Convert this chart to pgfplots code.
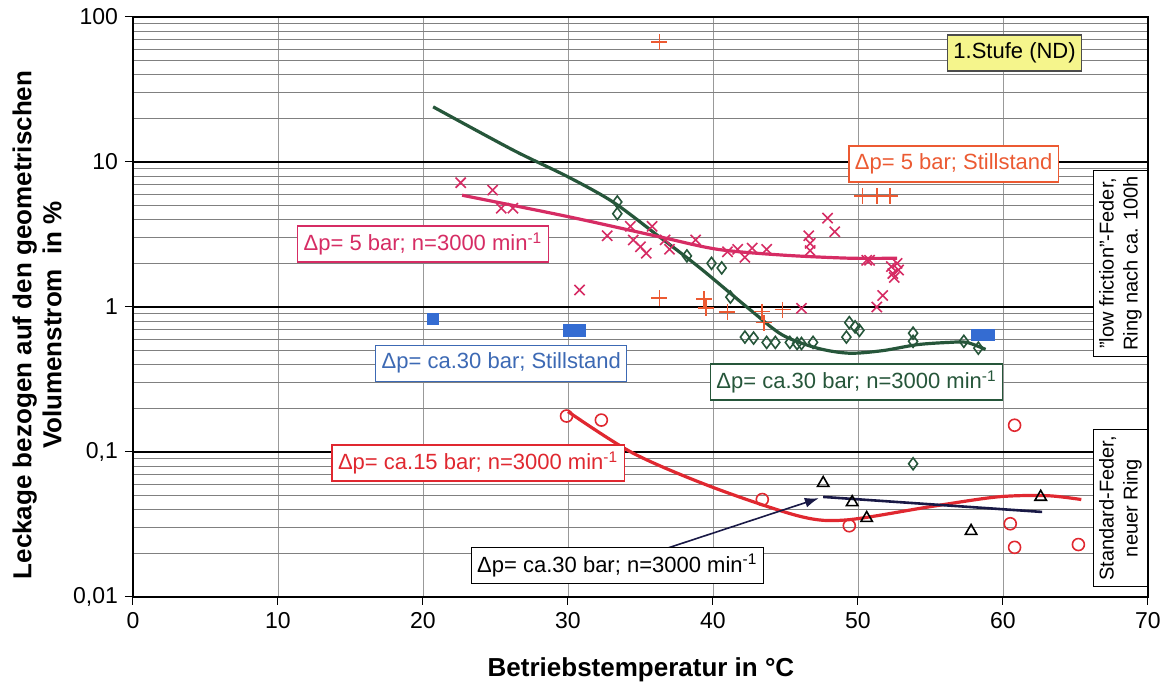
\documentclass[border=0pt]{standalone}
\usepackage{fontspec}
\setmainfont{Liberation Sans}
\usepackage{pgfplots}
\pgfplotsset{compat=1.18}
\usetikzlibrary{arrows.meta}
\definecolor{cpink}{RGB}{214,44,100}
\definecolor{corange}{RGB}{236,90,50}
\definecolor{cgreen}{RGB}{38,86,58}
\definecolor{cblue}{RGB}{52,108,210}
\definecolor{cbluet}{RGB}{60,105,180}
\definecolor{cred}{RGB}{224,40,48}
\definecolor{cnavy}{RGB}{25,25,70}
\definecolor{cyel}{RGB}{245,245,140}
\begin{document}
\begin{tikzpicture}
\begin{axis}[
 at={(0,0)}, anchor=south west, scale only axis,
 width=507.5pt, height=290pt,
 xmin=0, xmax=70, ymode=log, ymin=0.01, ymax=100,
 xtick={0,10,...,70},
 ytick={0.01,0.1,1,10,100},
 yticklabels={{0,01},{0,1},1,10,100},
 minor ytick={0.02,0.03,0.04,0.05,0.06,0.07,0.08,0.09,0.2,0.3,0.4,0.5,0.6,0.7,0.8,0.9,2,3,4,5,6,7,8,9,20,30,40,50,60,70,80,90},
 ymajorgrids, yminorgrids, xmajorgrids,
 major y grid style={black, line width=0.7pt},
 minor y grid style={black!50, line width=0.45pt},
 major x grid style={black!40, line width=0.35pt},
 tick align=outside, major tick length=4pt, minor tick length=0pt,
 tick pos=left,
 tick style={black, line width=0.5pt},
 axis line style={black, line width=0.6pt},
 ticklabel style={font=\fontsize{11.5}{13}\selectfont},
 /pgf/number format/assume math mode=true,
 clip mode=individual,
]
% fitted curves
\addplot[cgreen, line width=1.6pt, smooth] coordinates {(20.7,24) (26.2,12.1) (30,7.9) (33.1,5.3) (36.3,3.05) (39.1,1.86) (42.6,0.95) (44.8,0.64) (47.2,0.52) (49.4,0.48) (51.7,0.50) (54.1,0.55) (56.3,0.57) (57.5,0.57) (58.8,0.51)};
\addplot[cpink, line width=1.6pt, smooth] coordinates {(22.7,5.9) (30,4.2) (36.3,3.05) (40.3,2.5) (44.8,2.28) (49.4,2.17) (52.7,2.17)};
\addplot[cred, line width=1.6pt, smooth] coordinates {(30.0,0.19) (34.5,0.098) (40,0.057) (46,0.036) (49.2,0.034) (55,0.042) (59.6,0.049) (63,0.050) (65.4,0.047)};
\addplot[cnavy, line width=1.3pt] coordinates {(47.6,0.049) (62.7,0.0386)};
% data points
\addplot[only marks, mark=x, mark size=3.6pt, cpink, line width=0.8pt] coordinates {(22.6,7.2) (24.8,6.4) (25.4,4.8) (26.2,4.8) (30.8,1.31) (32.7,3.1) (34.3,3.6) (34.5,2.9) (35,2.6) (35.4,2.35) (35.8,3.6) (36.7,2.9) (37,2.5) (38.8,2.9) (41,2.4) (41.7,2.5) (42.2,2.2) (42.7,2.55) (43.7,2.5) (46.1,0.98) (46.6,3.1) (46.7,2.75) (46.7,2.45) (47.9,4.1) (48.4,3.3) (50.6,2.1) (50.8,2.1) (51.3,1.0) (51.7,1.2) (52.3,1.9) (52.4,1.7) (52.5,1.6) (52.8,1.8) (52.7,2.0)};
\addplot[only marks, mark=+, mark size=4pt, corange, line width=0.8pt] coordinates {(36.3,67) (50.3,5.8) (51.3,5.8) (52.2,5.8) (36.3,1.15) (39.4,1.13) (39.5,0.98) (41,0.92) (43.4,0.93) (43.5,0.78) (44.8,0.96)};
\addplot[only marks, mark=diamond, mark size=3pt, cgreen, line width=0.8pt] coordinates {(33.4,5.3) (33.4,4.4) (38.2,2.25) (39.9,2.0) (40.6,1.86) (41.2,1.17) (42.2,0.62) (42.8,0.61) (43.7,0.57) (44.3,0.57) (45.3,0.57) (45.8,0.56) (46.1,0.56) (46.9,0.57) (49.2,0.62) (49.4,0.78) (49.8,0.73) (50.1,0.69) (53.8,0.66) (53.8,0.58) (57.3,0.58) (58.3,0.52) (53.8,0.083)};
\addplot[only marks, mark=square*, mark size=2.8pt, cblue] coordinates {(20.7,0.83) (30.1,0.69) (30.8,0.69) (58.2,0.64) (59.0,0.64)};
\addplot[only marks, mark=o, mark size=3pt, cred, line width=0.8pt] coordinates {(29.9,0.177) (32.3,0.166) (43.4,0.047) (49.4,0.031) (60.8,0.153) (60.5,0.032) (60.8,0.022) (65.2,0.023)};
\addplot[only marks, mark=triangle, mark size=3.3pt, black, line width=0.8pt] coordinates {(47.6,0.061) (49.6,0.045) (50.6,0.035) (57.8,0.0285) (62.6,0.049)};
% arrow
\draw[cnavy, line width=0.8pt, -{Latex[length=7pt,width=5pt]}] (axis cs:36.9,0.0218) -- (axis cs:47.3,0.048);
% labels
\tikzset{lab/.style={fill=white, line width=0.6pt, inner sep=3pt, minimum height=18pt, font=\fontsize{11}{13}\selectfont}}
\node[lab, draw=black!70, fill=cyel, text=black] at (axis cs:60.8,56.5) {1.Stufe (ND)};
\node[lab, draw=corange, text=corange] at (axis cs:56.6,9.7) {Δp= 5 bar; Stillstand};
\node[lab, draw=cpink, text=cpink] at (axis cs:20,2.72) {Δp= 5 bar; n=3000 min\textsuperscript{-1}};
\node[lab, draw=cbluet, text=cbluet] at (axis cs:25.4,0.41) {Δp= ca.30 bar; Stillstand};
\node[lab, draw=cgreen, text=cgreen] at (axis cs:49.9,0.304) {Δp= ca.30 bar; n=3000 min\textsuperscript{-1}};
\node[lab, draw=cred, text=cred] at (axis cs:23.8,0.084) {Δp= ca.15 bar; n=3000 min\textsuperscript{-1}};
\node[lab, draw=black, text=black] at (axis cs:33.4,0.0164) {Δp= ca.30 bar; n=3000 min\textsuperscript{-1}};
\node[draw=black, fill=white, line width=0.6pt, inner sep=3pt, rotate=90, align=center, font=\fontsize{10}{12}\selectfont] at (axis cs:68.1,2.0) {"low friction"-Feder,\\Ring nach ca. 100h};
\node[draw=black, fill=white, line width=0.6pt, inner sep=3pt, rotate=90, align=center, font=\fontsize{10}{12}\selectfont] at (axis cs:68.1,0.041) {Standard-Feder,\\neuer Ring};
\end{axis}
\node[rotate=90, align=center, font=\bfseries\fontsize{13}{15}\selectfont] at (-48pt,136pt) {Leckage bezogen auf den geometrischen\\Volumenstrom\ \ in \%};
\node[font=\bfseries\fontsize{13}{15}\selectfont] at (254pt,-36.5pt) {Betriebstemperatur in °C};
\pgfresetboundingbox
\path (-66.5pt,-43.5pt) rectangle (515pt,298.5pt);
\end{tikzpicture}
\end{document}
